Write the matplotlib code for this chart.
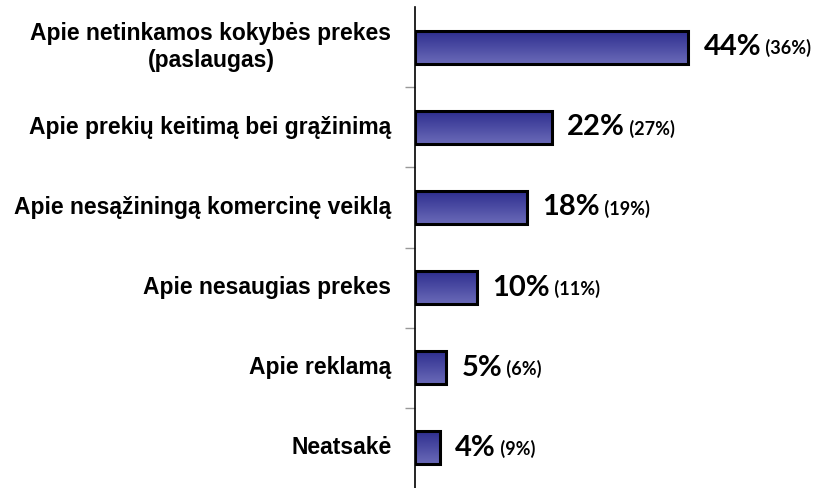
import matplotlib
matplotlib.use("Agg")
import matplotlib.pyplot as plt
import numpy as np

categories = [
    "Apie netinkamos kokybės prekes\n(paslaugas)",
    "Apie prekių keitimą bei grąžinimą",
    "Apie nesąžiningą komercinę veiklą",
    "Apie nesaugias prekes",
    "Apie reklamą",
    "Neatsakė",
]
values = [44, 22, 18, 10, 5, 4]
previous = [36, 27, 19, 11, 6, 9]

fig = plt.figure(figsize=(8.19, 4.88), dpi=100)
ax = fig.add_axes([415 / 819, 0.0, 1 - 415 / 819, 1 - 7 / 488])

n = len(categories)
ypos = np.arange(n)
bar_h = 0.41

# vertical gradient, dark on top
grad = np.linspace(0, 1, 64).reshape(-1, 1)
cmap = matplotlib.colors.LinearSegmentedColormap.from_list("bar", ["#2f2f8f", "#6a6ab8"])

for y, v, p, cat in zip(ypos, values, previous, categories):
    ax.imshow(grad, cmap=cmap, aspect="auto", extent=(0, v, y + bar_h / 2, y - bar_h / 2),
              zorder=2, interpolation="bilinear")
    ax.add_patch(plt.Rectangle((0, y - bar_h / 2), v, bar_h, fill=False,
                               edgecolor="black", linewidth=2.2, zorder=3))
    t = ax.annotate(f"{v}%", xy=(v, y), xytext=(11, 0), textcoords="offset points",
                    va="center", ha="left", fontsize=21, fontweight="bold",
                    family="Lato", color="black")
    ax.annotate(f" ({p}%)", xycoords=t, xy=(1, 0.1), va="bottom", ha="left",
                fontsize=13, fontweight="bold", family="Lato", color="black")
    # category label, lines centred on each other
    ax.annotate(cat, xy=(0, y), xycoords=ax.get_yaxis_transform(), xytext=(-17, 0),
                textcoords="offset points", ha="right", va="center",
                multialignment="center", fontsize=16.5, fontweight="bold",
                family="Liberation Sans", annotation_clip=False)

ax.set_xlim(0, 65)
ax.set_ylim(n - 0.5, -0.5)

for s in ["top", "right", "bottom"]:
    ax.spines[s].set_visible(False)
ax.spines["left"].set_linewidth(1.2)
ax.spines["left"].set_zorder(4)
ax.set_xticks([])

ax.set_yticks(np.arange(n - 1) + 0.5)
ax.set_yticklabels([])
ax.tick_params(axis="y", length=7, color="#999999", width=1)

fig.savefig("out.png", dpi=100)
